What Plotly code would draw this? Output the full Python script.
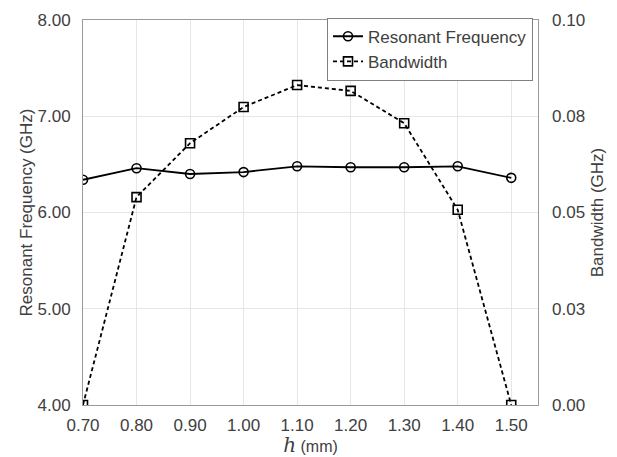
import plotly.graph_objects as go

h = [0.70, 0.80, 0.90, 1.00, 1.10, 1.20, 1.30, 1.40, 1.50]
freq = [6.34, 6.46, 6.40, 6.42, 6.48, 6.47, 6.47, 6.48, 6.36]
bw = [0.000, 0.054, 0.068, 0.0774, 0.0831, 0.0816, 0.0732, 0.0507, 0.000]

x_ticks = [0.7, 0.8, 0.9, 1.0, 1.1, 1.2, 1.3, 1.4, 1.5]
x_labels = ["0.70", "0.80", "0.90", "1.00", "1.10", "1.20", "1.30", "1.40", "1.50"]
y1_ticks = [4, 5, 6, 7, 8]
y1_labels = ["4.00", "5.00", "6.00", "7.00", "8.00"]
y2_ticks = [0, 0.025, 0.05, 0.075, 0.10]
y2_labels = ["0.00", "0.03", "0.05", "0.08", "0.10"]

FONT = "Liberation Sans, Arial, sans-serif"
TXT = "#404040"

fig = go.Figure()
fig.add_trace(go.Scatter(
    x=h, y=freq, name="Resonant Frequency", mode="lines+markers",
    line=dict(color="black", width=1.8),
    marker=dict(symbol="circle-open", size=9, color="black", line=dict(width=1.6)),
))
fig.add_trace(go.Scatter(
    x=h, y=bw, name="Bandwidth", mode="lines+markers", yaxis="y2",
    line=dict(color="black", width=1.8, dash="4px,3px"),
    marker=dict(symbol="square-open", size=9, color="black", line=dict(width=1.6)),
))

fig.update_layout(
    width=609, height=449,
    margin=dict(l=75, r=79, t=12, b=52, autoexpand=False),
    paper_bgcolor="white", plot_bgcolor="white",
    font=dict(family=FONT, size=17, color=TXT),
    showlegend=True,
    legend=dict(
        x=0.989, y=1.006, xanchor="right", yanchor="top",
        bgcolor="white", bordercolor="#808080", borderwidth=1,
        font=dict(size=17, color=TXT), tracegroupgap=0,
        itemwidth=30,
    ),
    xaxis=dict(
        range=[0.70, 1.55], tickvals=x_ticks, ticktext=x_labels,
        showgrid=True, gridcolor="#e6e6e6", gridwidth=1,
        showline=True, linecolor="#9a9a9a", linewidth=1, mirror=True,
        ticks="", ticklabelstandoff=5, zeroline=False, automargin=False,
        tickfont=dict(size=17),
        title=dict(text="<span style='font-family:DejaVu Serif, serif;font-style:italic;font-size:20px'>h</span> (mm)",
                   font=dict(size=16, color=TXT), standoff=12),
    ),
    yaxis=dict(
        range=[4, 8], tickvals=y1_ticks, ticktext=y1_labels,
        showgrid=True, gridcolor="#e6e6e6", gridwidth=1,
        showline=True, linecolor="#9a9a9a", linewidth=1, mirror=True,
        ticks="", ticklabelstandoff=8, zeroline=False, automargin=False,
        tickfont=dict(size=17),
        title=dict(text="Resonant Frequency (GHz)", font=dict(size=17, color=TXT), standoff=0),
    ),
    yaxis2=dict(
        range=[0, 0.10], tickvals=y2_ticks, ticktext=y2_labels,
        overlaying="y", side="right", showgrid=False,
        showline=False, ticks="", ticklabelstandoff=13, zeroline=False, automargin=False,
        tickfont=dict(size=17),
        title=dict(text="Bandwidth (GHz)", font=dict(size=17, color=TXT), standoff=7),
    ),
)

fig.write_html("out.html")
